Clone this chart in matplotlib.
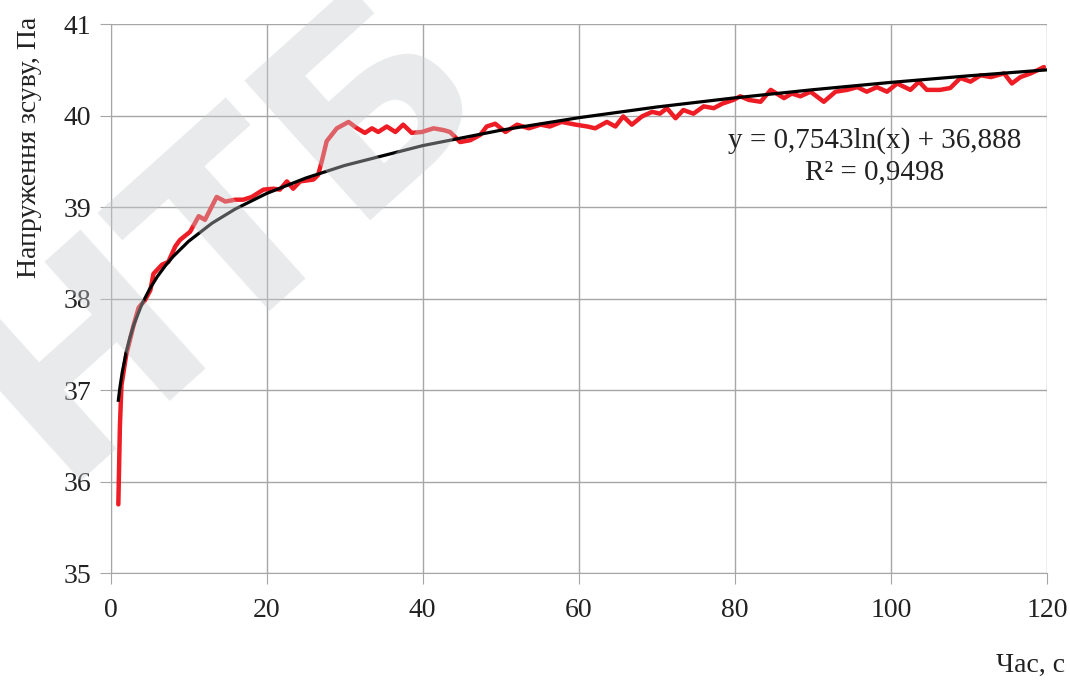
import matplotlib.pyplot as plt

plt.rcParams["font.family"] = ["Liberation Serif", "DejaVu Serif"]

# red curve (time, s / shear stress, Pa)
t_meas = [1.0, 1.2, 1.4, 2.0, 2.9, 3.6, 4.4, 5.1, 5.5, 6.6, 7.4, 8.3, 8.9, 10.2,
          11.3, 12.1, 13.6, 14.7, 16.0, 17.0, 18.1, 19.6, 20.9, 21.7, 22.6, 23.4,
          24.3, 26.0, 26.6, 27.1, 27.7, 29.0, 30.5, 31.6, 32.6, 33.5, 34.3, 35.4,
          36.5, 37.5, 38.6, 39.9, 41.4, 42.7, 43.5, 44.8, 46.1, 47.4, 48.2, 49.3,
          50.6, 52.1, 53.6, 55.1, 56.3, 57.8, 59.6, 61.1, 62.1, 63.6, 64.7, 65.7,
          66.8, 68.1, 69.4, 70.4, 71.3, 72.4, 73.4, 74.7, 76.0, 77.3, 78.4, 79.8,
          80.7, 81.8, 83.3, 84.6, 86.3, 87.3, 88.4, 89.7, 91.4, 92.9, 94.4, 95.7,
          96.9, 98.2, 99.5, 100.8, 102.5, 103.6, 104.6, 106.3, 107.6, 108.9, 110.2,
          111.5, 112.8, 114.5, 115.5, 116.6, 117.9, 118.9, 119.6]
tau_meas = [35.75, 36.6, 37.05, 37.38, 37.69, 37.90, 37.98, 38.09, 38.27, 38.37,
            38.40, 38.57, 38.64, 38.73, 38.90, 38.86, 39.11, 39.06, 39.08, 39.08,
            39.11, 39.19, 39.20, 39.19, 39.28, 39.20, 39.28, 39.30, 39.35, 39.51,
            39.72, 39.86, 39.93, 39.86, 39.81, 39.86, 39.82, 39.88, 39.82, 39.90,
            39.81, 39.82, 39.86, 39.84, 39.82, 39.71, 39.73, 39.79, 39.88, 39.91,
            39.82, 39.90, 39.86, 39.90, 39.88, 39.93, 39.90, 39.88, 39.86, 39.93,
            39.88, 39.99, 39.90, 39.99, 40.04, 40.02, 40.08, 39.97, 40.06, 40.02,
            40.10, 40.08, 40.13, 40.17, 40.21, 40.17, 40.15, 40.28, 40.19, 40.24,
            40.21, 40.26, 40.15, 40.26, 40.28, 40.31, 40.26, 40.31, 40.26, 40.35,
            40.28, 40.37, 40.28, 40.28, 40.30, 40.41, 40.37, 40.44, 40.42, 40.46,
            40.35, 40.42, 40.46, 40.50, 40.53]

# black logarithmic trend line, points read along it
t_trend = [1, 1.2, 1.5, 2, 2.5, 3, 4, 5, 6, 7, 8, 10, 13, 16, 20, 25, 30, 40,
           50, 60, 70, 80, 90, 100, 110, 120]
tau_trend = [36.888, 37.026, 37.194, 37.411, 37.579, 37.717, 37.934, 38.102,
             38.240, 38.356, 38.457, 38.625, 38.823, 38.979, 39.148, 39.316,
             39.454, 39.671, 39.839, 39.976, 40.093, 40.193, 40.282, 40.362,
             40.434, 40.499]

x_ticks = [0, 20, 40, 60, 80, 100, 120]
y_ticks = [35, 36, 37, 38, 39, 40, 41]

fig = plt.figure(figsize=(10.7, 6.82), dpi=100)
ax = fig.add_axes([0.1033, 0.1598, 0.8752, 0.805])

ax.plot(t_meas, tau_meas, color="#ee1c24", lw=3.2, solid_capstyle="round",
        solid_joinstyle="round", zorder=3)
ax.plot(t_trend, tau_trend, color="black", lw=2.3, zorder=4)

ax.set_xlim(0, 120)
ax.set_ylim(35, 41)
ax.set_xticks(x_ticks)
ax.set_yticks(y_ticks)
ax.grid(True, color="#a6a6a6", lw=1.0)
ax.set_axisbelow(True)
for side in ["top", "right"]:
    ax.spines[side].set_visible(False)
for side in ["left", "bottom"]:
    ax.spines[side].set_color("#a6a6a6")
ax.tick_params(direction="out", length=8, color="#a6a6a6", labelsize=20,
               labelcolor="#222222")
ax.tick_params(axis="x", pad=10)
ax.tick_params(axis="y", pad=6)

# trend line equation, in figure pixels measured from the top-left
W, H = 1070, 682
fig.text(875 / W, 1 - 141 / H, "y = 0,7543ln(x) + 36,888", ha="center", va="center",
         fontsize=21, color="#222222")
fig.text(875 / W, 1 - 172 / H, "R² = 0,9498", ha="center", va="center",
         fontsize=21, color="#222222")

fig.text(0.028, 0.975, "Напруження зсуву, Па", rotation=90, ha="center", va="top",
         fontsize=20, color="#222222")
fig.text(0.963, 0.025, "Час, с", ha="center", va="center", fontsize=20, color="#222222")

# faint library watermark over the plot
fig.text(228 / W, 1 - 232 / H, "НТБ", rotation=42, ha="center", va="center",
         fontsize=185, family="DejaVu Sans", weight="bold", color="#c8cbce",
         alpha=0.4, zorder=10)

fig.savefig("out.png", dpi=100)
